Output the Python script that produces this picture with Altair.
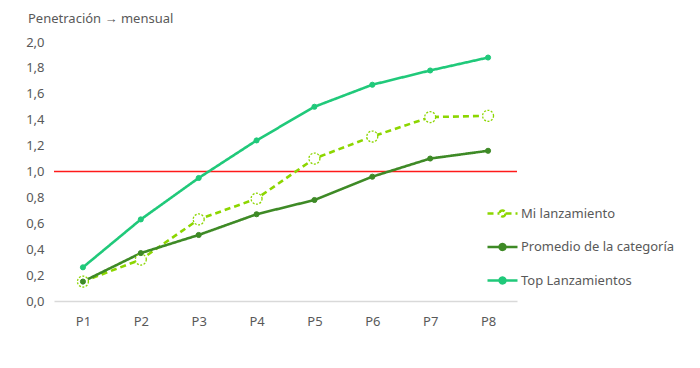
import altair as alt
import pandas as pd

periods = ["P1", "P2", "P3", "P4", "P5", "P6", "P7", "P8"]
series_names = ["Mi lanzamiento", "Promedio de la categoría", "Top Lanzamientos"]
mi_lanzamiento = [0.15, 0.32, 0.63, 0.79, 1.10, 1.27, 1.42, 1.43]
promedio = [0.15, 0.37, 0.51, 0.67, 0.78, 0.96, 1.10, 1.16]
top = [0.26, 0.63, 0.95, 1.24, 1.50, 1.67, 1.78, 1.88]
threshold = [1.0]
colors = ["#8CD600", "#3E8A26", "#20C97A"]
fills = ["white", "#3E8A26", "#20C97A"]

rows = []
for name, vals in zip(series_names, [mi_lanzamiento, promedio, top]):
    for p, v in zip(periods, vals):
        rows.append({"periodo": p, "serie": name, "valor": v})
df = pd.DataFrame(rows)

FONT = "Noto Sans"
GRAY = "#595959"

y_scale = alt.Scale(domain=[0, 2.0], nice=False)
y_axis = alt.Axis(values=[0, 0.2, 0.4, 0.6, 0.8, 1.0, 1.2, 1.4, 1.6, 1.8, 2.0],
                  labelExpr="replace(format(datum.value, '.1f'), '.', ',')",
                  labelOverlap=False,
                  grid=False, domain=False, ticks=False, labelPadding=10,
                  labelFontSize=13, labelColor=GRAY, labelFont=FONT)

x_enc = alt.X("periodo:N", sort=periods, title=None,
              scale=alt.Scale(paddingInner=0, paddingOuter=0),
              axis=alt.Axis(labelAngle=0, ticks=False, domainColor="#D9D9D9",
                            domainWidth=1.3, labelPadding=14, labelFontSize=13,
                            labelColor=GRAY, labelFont=FONT))
y_enc = alt.Y("valor:Q", title=None, scale=y_scale, axis=y_axis)
color_enc = alt.Color("serie:N", sort=series_names,
                      scale=alt.Scale(domain=series_names, range=colors),
                      legend=alt.Legend(title=None, orient="none", legendX=432, legendY=155,
                                        symbolType="M-1,0H-0.2M0.2,0H1M0.2,0A0.2,0.2,0,1,1,-0.2,0A0.2,0.2,0,1,1,0.2,0Z",
                                        symbolSize=900,
                                        symbolStrokeWidth=2.3, labelFontSize=13,
                                        labelColor=GRAY, labelFont=FONT, rowPadding=8.5,
                                        labelOffset=2))
dash_enc = alt.StrokeDash("serie:N", sort=series_names,
                          scale=alt.Scale(domain=series_names, range=[[6, 4], [1, 0], [1, 0]]),
                          legend=None)
fill_enc = alt.Fill("serie:N", sort=series_names,
                    scale=alt.Scale(domain=series_names, range=fills),
                    legend=None)

base = alt.Chart(df).encode(x=x_enc, y=y_enc)

rule = alt.Chart(pd.DataFrame({"v": threshold})).mark_rule(color="#FF1A1A", strokeWidth=1.3).encode(
    y=alt.Y("v:Q", title=None, scale=y_scale, axis=y_axis), x=alt.value(0), x2=alt.value(463))

lines = base.mark_line(strokeWidth=2.6).encode(color=color_enc, strokeDash=dash_enc,
                                               detail="serie:N")

top_pts = base.transform_filter(alt.datum.serie == "Top Lanzamientos").mark_point(
    filled=True, size=26, stroke="#20C97A", strokeWidth=1, opacity=1, fillOpacity=1).encode(fill=fill_enc)
mi_pts = base.transform_filter(alt.datum.serie == "Mi lanzamiento").mark_point(
    filled=True, size=120, stroke="#8CD600", fillOpacity=1,
    strokeWidth=1.3, strokeDash=[2, 1.5], opacity=1).encode(fill=fill_enc)
prom_pts = base.transform_filter(alt.datum.serie == "Promedio de la categoría").mark_point(
    filled=True, size=26, stroke="#3E8A26", strokeWidth=1, opacity=1, fillOpacity=1).encode(fill=fill_enc)

chart = alt.layer(rule, lines, top_pts, mi_pts, prom_pts).properties(
    width=463, height=259,
    title=alt.TitleParams("Penetración → mensual", anchor="start", frame="group",
                          dx=-26, offset=10, fontSize=13, fontWeight="normal",
                          color=GRAY, font=FONT),
    autosize=alt.AutoSizeParams(type="none"),
    padding={"left": 46, "top": 34, "right": 175, "bottom": 59},
).configure_view(stroke=None)

chart.save("out.html", embed_options={"renderer": "svg", "actions": False})
